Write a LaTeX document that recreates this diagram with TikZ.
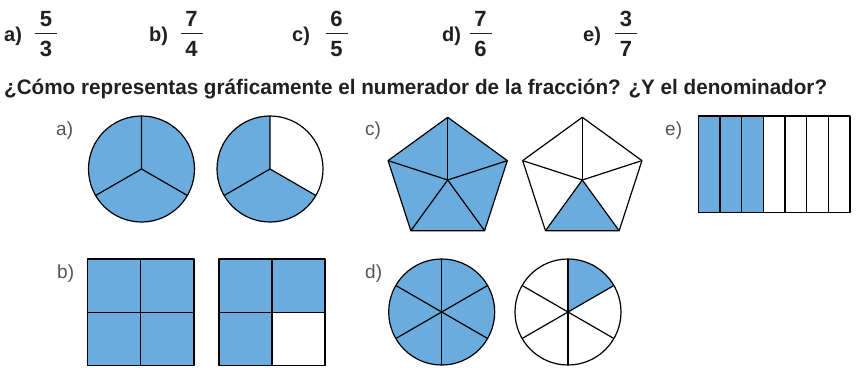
\documentclass[tikz,border=0pt]{standalone}
\usepackage{fontspec}
\setmainfont{Liberation Sans}
\usepackage{graphicx}
\definecolor{fillblue}{RGB}{106,172,222}
\definecolor{ink}{RGB}{35,31,32}
\definecolor{labgray}{RGB}{85,85,85}
\begin{document}
\begin{tikzpicture}[x=1pt,y=1pt,
  hdr/.style={font=\fontsize{22}{24}\selectfont\bfseries, text=ink, inner sep=0pt, anchor=base},
  hdrlab/.style={font=\fontsize{20}{22}\selectfont\bfseries, text=ink, inner sep=0pt, anchor=base west},
  lab/.style={font=\fontsize{19}{22}\selectfont, text=labgray, inner sep=0pt, anchor=base west},
  part/.style={fill=fillblue},
  edge/.style={draw=black, line width=1.2pt, line join=round},
  fracbar/.style={draw=ink, line width=1.3pt}]
\useasboundingbox (0,0) rectangle (858,367);

% header fractions
\foreach \lx/\fx/\l/\n/\d in {4/46/a/5/3, 149/191.5/b/7/4, 292/336.5/c/6/5, 442/480.5/d/7/6, 583/626/e/3/7}{
  \node[hdrlab] (h\l) at (\lx,325.3) {\l)};
  \node[hdr] (n\l) at (\fx,340.3) {\n};
  \node[hdr] (d\l) at (\fx,310) {\d};
  \draw[fracbar] (\fx-11,333.7) -- (\fx+11,333.7);
}

\node[anchor=base west, inner sep=0pt, text=ink, font=\fontsize{21}{24}\selectfont\bfseries] (q) at (4,272.5)
  {\resizebox{823pt}{\height}{¿Cómo representas gráficamente el numerador de la fracción? ¿Y el denominador?}};

% labels
\node[lab] (la) at (56,231) {a)};
\node[lab] (lb) at (57,88.7) {b)};
\node[lab] (lc) at (365,231) {c)};
\node[lab] (ld) at (365,88.7) {d)};
\node[lab] (le) at (665,231) {e)};

% a) circles
\begin{scope}[shift={(141.5,198)}]
  \fill[part] (0,0) circle[radius=53];
  \draw[edge] (0,0) circle[radius=53];
  \draw[edge] (0,0) -- (90:53) (0,0) -- (210:53) (0,0) -- (330:53);
\end{scope}
\begin{scope}[shift={(270,198)}]
  \fill[part] (0,0) -- (90:53) arc[start angle=90,end angle=330,radius=53] -- cycle;
  \draw[edge] (0,0) circle[radius=53];
  \draw[edge] (0,0) -- (90:53) (0,0) -- (210:53) (0,0) -- (330:53);
\end{scope}

% c) pentagons
\def\R{62.7}
\begin{scope}[shift={(447.7,187)}]
  \fill[part] (90:\R) -- (162:\R) -- (234:\R) -- (306:\R) -- (18:\R) -- cycle;
  \draw[edge] (90:\R) -- (162:\R) -- (234:\R) -- (306:\R) -- (18:\R) -- cycle;
  \foreach \a in {90,162,234,306,18} \draw[edge] (0,0) -- (\a:\R);
\end{scope}
\begin{scope}[shift={(582.3,187)}]
  \fill[part] (0,0) -- (234:\R) -- (306:\R) -- cycle;
  \draw[edge] (90:\R) -- (162:\R) -- (234:\R) -- (306:\R) -- (18:\R) -- cycle;
  \foreach \a in {90,162,234,306,18} \draw[edge] (0,0) -- (\a:\R);
\end{scope}

% e) strip
\fill[part] (698.3,154.3) rectangle (763.3,251);
\draw[edge] (698.3,154.3) rectangle (850,251);
\foreach \i in {1,...,6} \draw[edge] (698.3+\i*21.67,154.3) -- (698.3+\i*21.67,251);

% b) squares
\fill[part] (87.3,1.3) rectangle (194,108);
\draw[edge] (87.3,1.3) rectangle (194,108);
\draw[edge] (140.65,1.3) -- (140.65,108) (87.3,54.65) -- (194,54.65);
\fill[part] (219,1.3) rectangle (325,108);
\fill[white] (272,1.3) rectangle (325,54.65);
\draw[edge] (219,1.3) rectangle (325,108);
\draw[edge] (272,1.3) -- (272,108) (219,54.65) -- (325,54.65);

% d) circles
\begin{scope}[shift={(441.7,55)}]
  \fill[part] (0,0) circle[radius=53];
  \draw[edge] (0,0) circle[radius=53];
  \foreach \a in {90,30,-30} \draw[edge] (\a:53) -- (\a+180:53);
\end{scope}
\begin{scope}[shift={(568,55)}]
  \fill[part] (0,0) -- (30:53) arc[start angle=30,end angle=90,radius=53] -- cycle;
  \draw[edge] (0,0) circle[radius=53];
  \foreach \a in {90,30,-30} \draw[edge] (\a:53) -- (\a+180:53);
\end{scope}
\end{tikzpicture}
\end{document}
